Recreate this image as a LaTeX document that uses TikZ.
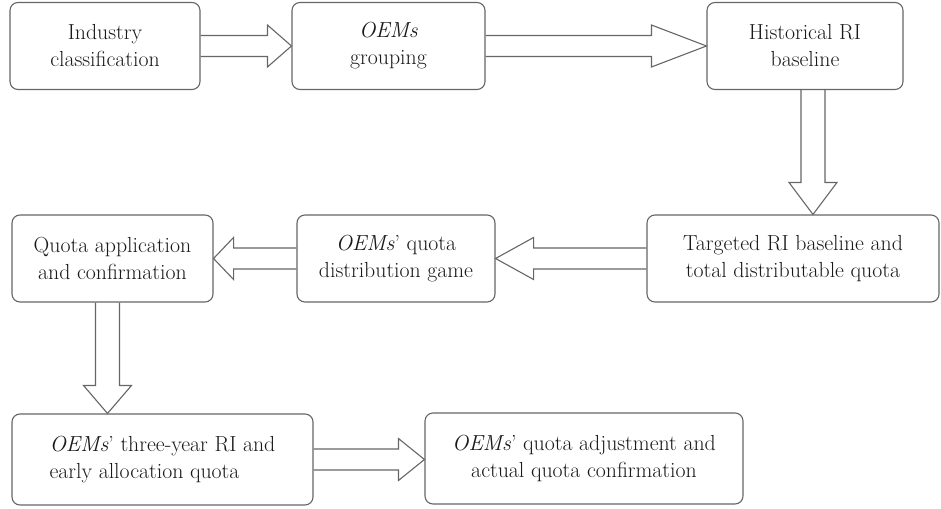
\documentclass[tikz,border=0pt]{standalone}
\usetikzlibrary{calc}

% hollow block arrows: from, to, head length
\newcommand{\harr}[3]{%
  \draw[blk] let \p1=(#1), \p2=(#2), \p3=($(#2)!#3pt!(#1)$) in
    (\x1,\y1+10.5pt) -- (\x3,\y1+10.5pt) -- (\x3,\y1+21pt) -- (\x2,\y1)
    -- (\x3,\y1-21pt) -- (\x3,\y1-10.5pt) -- (\x1,\y1-10.5pt);}
\newcommand{\varr}[3]{%
  \draw[blk] let \p1=(#1), \p2=(#2) in
    (\x1-12pt,\y1) -- (\x1-12pt,\y2+#3pt) -- (\x1-24pt,\y2+#3pt) -- (\x1,\y2)
    -- (\x1+24pt,\y2+#3pt) -- (\x1+12pt,\y2+#3pt) -- (\x1+12pt,\y1);}

\begin{document}
\begin{tikzpicture}[x=1pt,y=-1pt,
  font=\fontsize{21.8}{27}\selectfont,
  box/.style={draw=black!60,line width=1.1pt,rounded corners=8pt,text=black!90,
    minimum height=87pt,inner sep=0pt,align=center},
  blk/.style={draw=black!60,line width=1.1pt,line join=miter}]
\useasboundingbox (0,0) rectangle (941,508);
\node[box,minimum width=190pt] (b1) at (105,46) {Industry\\classification};
\node[box,minimum width=193pt] (b2) at (388.5,46) {\emph{OEMs}\\grouping};
\node[box,minimum width=196pt] (b3) at (805,46) {Historical RI\\baseline};
\node[box,minimum width=292pt] (b4) at (793,258.5) {Targeted RI baseline and\\total distributable quota};
\node[box,minimum width=198pt] (b5) at (396,258.5) {\emph{OEMs}’ quota\\distribution game};
\node[box,minimum width=201pt] (b6) at (112.5,258.5) {Quota application\\and confirmation};
\node[box,minimum width=301pt,minimum height=91pt,align=left] (b7) at (162.5,459.5)
  {\emph{OEMs}’ three-year RI and\\early allocation quota};
\node[box,minimum width=318pt,minimum height=91pt] (b8) at (584,458.5)
  {\emph{OEMs}’ quota adjustment and\\actual quota confirmation};
% arrows
\foreach \s/\t/\l in {b1.east/b2.west/24,b2.east/b3.west/55,b4.west/b5.east/38,
    b5.west/b6.east/20,b7.east/b8.west/26}{
  \harr{\s}{\t}{\l}
}
\varr{[xshift=8pt]b3.south}{b4.north}{32}
\varr{[xshift=-5pt]b6.south}{b7.north}{28}
\end{tikzpicture}
\end{document}
